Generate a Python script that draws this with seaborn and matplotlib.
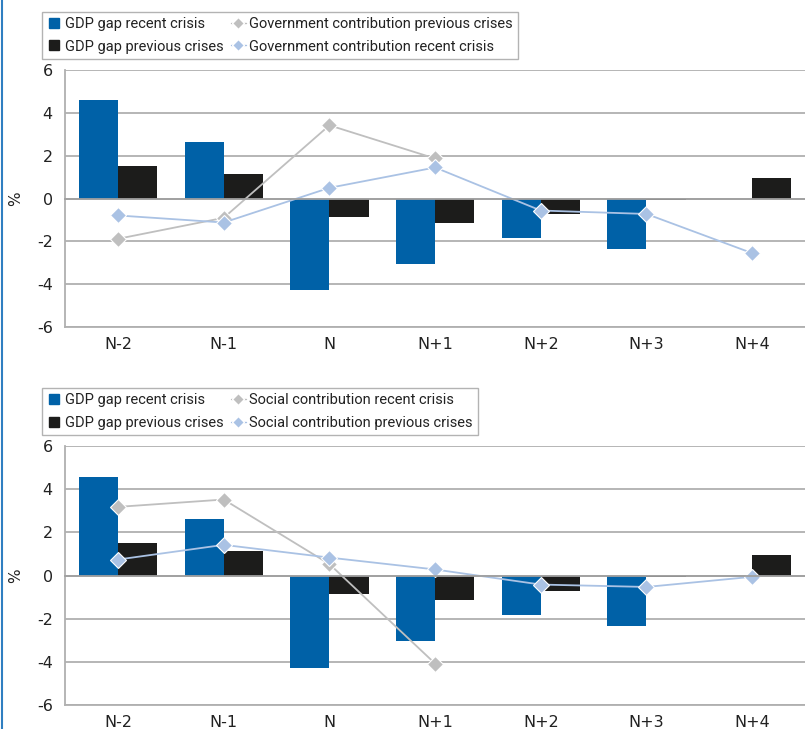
import numpy as np
import pandas as pd
import seaborn as sns
import matplotlib.pyplot as plt
from matplotlib.lines import Line2D

sns.set_style("white")
plt.rcParams['font.family'] = ['DejaVu Sans']
plt.rcParams['axes.unicode_minus'] = False

# data
periods = ["N-2", "N-1", "N", "N+1", "N+2", "N+3", "N+4"]
gdp_recent = [4.58, 2.63, -4.28, -3.05, -1.84, -2.35, 0.0]
gdp_previous = [1.51, 1.14, -0.86, -1.14, -0.72, -0.05, 0.95]
gov_previous = [-1.88, -0.90, 3.42, 1.87, np.nan, np.nan, np.nan]
gov_recent = [-0.79, -1.12, 0.50, 1.45, -0.56, -0.72, -2.55]
soc_recent = [3.18, 3.52, 0.53, -4.08, np.nan, np.nan, np.nan]
soc_previous = [0.74, 1.42, 0.83, 0.28, -0.42, -0.53, -0.06]

bar_names = ["GDP gap recent crisis", "GDP gap previous crises"]
c_blue, c_black, c_gray, c_light = "#0061a7", "#1c1c1b", "#bfbfbf", "#aac2e4"
txt = "#222222"

bars = pd.DataFrame({
    "period": periods * 2,
    "value": gdp_recent + gdp_previous,
    "series": [bar_names[0]] * 7 + [bar_names[1]] * 7,
})

fig = plt.figure(figsize=(8.05, 7.29), dpi=100)
ax_top = fig.add_axes([0.081, 0.5514, 0.919, 0.3525])
ax_bot = fig.add_axes([0.081, 0.0329, 0.919, 0.3553])

panels = [
    (ax_top, ["Government contribution previous crises", "Government contribution recent crisis"],
     [gov_previous, gov_recent], 0.984),
    (ax_bot, ["Social contribution recent crisis", "Social contribution previous crises"],
     [soc_recent, soc_previous], 0.468),
]

for ax, line_names, line_vals, leg_top in panels:
    sns.barplot(data=bars, x="period", y="value", hue="series", order=periods,
                palette=[c_blue, c_black], width=0.74, saturation=1,
                linewidth=0, legend=False, ax=ax)
    for vals, col in zip(line_vals, [c_gray, c_light]):
        sns.pointplot(x=periods, y=vals, order=periods, color=col, markers="D",
                      markersize=8.5, linewidth=1.3, errorbar=None, ax=ax,
                      markeredgecolor="white", markeredgewidth=0.8)

    ax.set_ylim(-6, 6)
    ax.set_xlim(-0.5, 6.5)
    ax.set_yticks(range(-6, 7, 2))
    ax.yaxis.grid(True, color="#b0b0b0", linewidth=1.3)
    ax.set_axisbelow(True)
    ax.tick_params(axis="y", length=0, labelsize=11.5, pad=9, labelcolor=txt)
    ax.set_ylabel("")
    ax.set_xlabel("")
    for s in ["top", "right"]:
        ax.spines[s].set_visible(False)
    ax.spines["left"].set_color("#b0b0b0")
    ax.spines["left"].set_linewidth(1.3)

    # axis line at zero with boundary ticks, category labels at the bottom
    ax.spines["bottom"].set_position(("data", 0))
    ax.spines["bottom"].set_color("#a0a0a0")
    ax.spines["bottom"].set_linewidth(1.3)
    ax.set_xticks(range(len(periods)))
    ax.set_xticklabels([])
    ax.set_xticks(np.arange(0.5, 6.5, 1), minor=True)
    ax.tick_params(axis="x", which="major", length=0)
    ax.tick_params(axis="x", which="minor", length=5, width=1.1, color="#a0a0a0", direction="out")
    sec = ax.secondary_xaxis("bottom")
    sec.set_xticks(range(len(periods)))
    sec.set_xticklabels(periods)
    sec.tick_params(length=0, labelsize=11.5, pad=7, labelcolor=txt)
    sec.spines["bottom"].set_color("#b0b0b0")
    sec.spines["bottom"].set_linewidth(1.3)

    # "%" label next to the zero line
    y0 = ax.transData.transform((0, 0))[1] / fig.bbox.height
    fig.text(0.02, y0, "%", rotation=90, ha="center", va="center", fontsize=11, color=txt)

    handles = [
        Line2D([], [], marker="s", linestyle="none", color=c_blue, markersize=7),
        Line2D([], [], marker="s", linestyle="none", color=c_black, markersize=7),
        Line2D([], [], marker="D", color=c_gray, markersize=6, linewidth=1, markeredgecolor="white"),
        Line2D([], [], marker="D", color=c_light, markersize=6, linewidth=1, markeredgecolor="white"),
    ]
    leg = fig.legend(handles, bar_names + line_names, ncol=2, loc="upper left",
                     bbox_to_anchor=(0.052, leg_top), frameon=True,
                     prop={"family": "Roboto", "size": 10.5},
                     fancybox=False, edgecolor="#a0a0a0", handlelength=1.0,
                     handletextpad=0.25, columnspacing=0.5, labelspacing=0.6,
                     borderpad=0.35, borderaxespad=0)
    leg.get_frame().set_linewidth(1.0)
    for t in leg.get_texts():
        t.set_color(txt)

fig.add_artist(Line2D([0.003, 0.003], [0, 1], color="#2f7fc1", linewidth=1.5,
                      transform=fig.transFigure))

fig.savefig("out.png", dpi=100)
